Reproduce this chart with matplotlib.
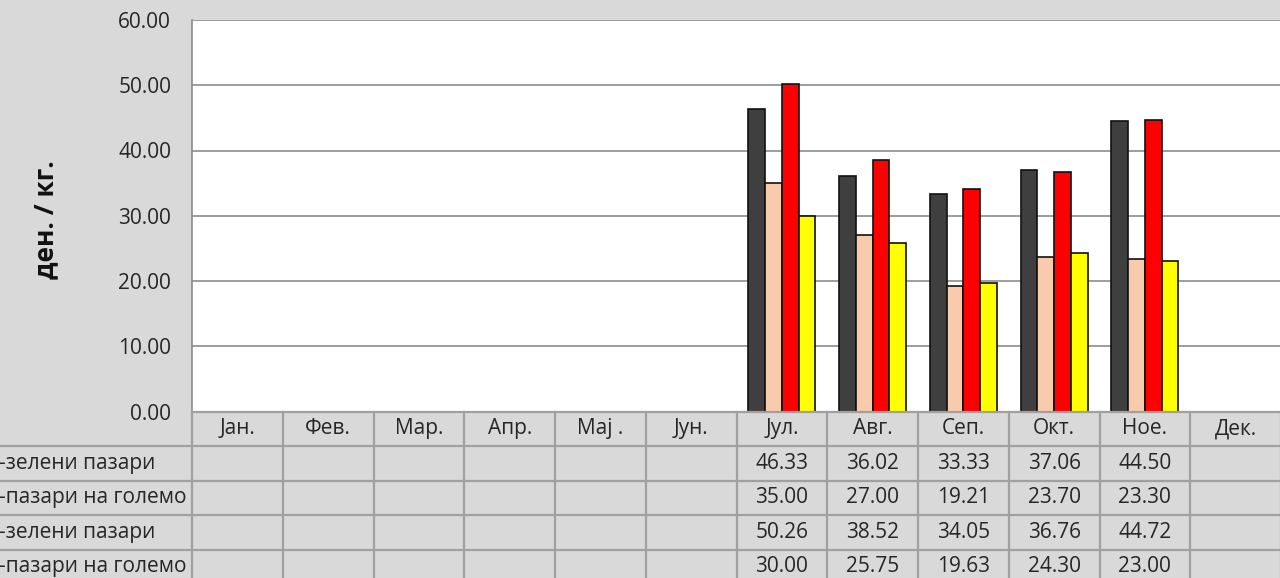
import matplotlib
matplotlib.use("Agg")
import matplotlib.pyplot as plt
from matplotlib.lines import Line2D
import matplotlib.transforms as mtransforms

plt.rcParams['font.family'] = ['Open Sans', 'DejaVu Sans']

months = ["Јан.", "Фев.", "Мар.", "Апр.", "Мај .", "Јун.", "Јул.", "Авг.", "Сеп.", "Окт.", "Ное.", "Дек."]
row_labels = ["-зелени пазари", "-пазари на големо", "-зелени пазари", "-пазари на големо"]
s1 = [None, None, None, None, None, None, 46.33, 36.02, 33.33, 37.06, 44.50, None]
s2 = [None, None, None, None, None, None, 35.00, 27.00, 19.21, 23.70, 23.30, None]
s3 = [None, None, None, None, None, None, 50.26, 38.52, 34.05, 36.76, 44.72, None]
s4 = [None, None, None, None, None, None, 30.00, 25.75, 19.63, 24.30, 23.00, None]
series = [s1, s2, s3, s4]
colors = ["#3F3F3F", "#F8CBAD", "#FF0000", "#FFFF00"]
yticks = [0, 10, 20, 30, 40, 50, 60]
ylabel = "ден. / кг."

W, H = 1280, 578
fig = plt.figure(figsize=(W / 100, H / 100), dpi=100, facecolor="#D9D9D9")

left_px, right_px = 192, 1281
top_px, zero_px = 20, 411.5
row_h = 34.5
fs = 15

ax = fig.add_axes([left_px / W, (H - zero_px) / H, (right_px - left_px) / W, (zero_px - top_px) / H])
ax.set_facecolor("white")
n = len(months)
bw = 0.185
offs = [-1.5, -0.5, 0.5, 1.5]
for k, s in enumerate(series):
    xs = [i + 0.5 + offs[k] * bw for i, v in enumerate(s) if v is not None]
    vs = [v for v in s if v is not None]
    ax.bar(xs, vs, width=bw, color=colors[k], edgecolor="#111111", linewidth=1.2, zorder=3)

ax.set_xlim(0, n)
ax.set_ylim(0, 60)
ax.set_yticks(yticks)
ax.set_yticklabels([f"{t:.2f}" for t in yticks], fontsize=fs, color="#262626")
ax.set_xticks([])
ax.tick_params(axis="y", length=0, pad=15)
ax.grid(axis="y", color="#8C8C8C", linewidth=1.2, zorder=0)
for sp in ["top", "right", "bottom"]:
    ax.spines[sp].set_visible(False)
ax.spines["left"].set_color("#8C8C8C")
ax.spines["left"].set_linewidth(1.2)

fig.text(46 / W, 1 - 220 / H, ylabel, rotation=90, fontsize=19, fontweight="bold",
         ha="center", va="center", color="#111111")

# data table
nrows = 1 + len(series)
tax = fig.add_axes([left_px / W, (H - zero_px - nrows * row_h) / H, (right_px - left_px) / W, nrows * row_h / H])
tax.set_xlim(0, n)
tax.set_ylim(nrows, 0)
tax.axis("off")
tax.patch.set_alpha(0)
gc = "#A0A0A0"
for i in range(n + 1):
    tax.plot([i, i], [0, nrows], color=gc, lw=1.6, clip_on=False)
trans = mtransforms.blended_transform_factory(fig.transFigure, tax.transData)
for r in range(nrows + 1):
    x0 = left_px / W if r == 0 else 0
    fig.add_artist(Line2D([x0, 1], [r, r], transform=trans, color=gc, lw=1.6))
for i, m in enumerate(months):
    tax.text(i + 0.5, 0.5, m, ha="center", va="center", fontsize=fs, color="#262626")
for r, s in enumerate(series):
    for i, v in enumerate(s):
        if v is not None:
            tax.text(i + 0.5, r + 1.5, f"{v:.2f}", ha="center", va="center", fontsize=fs, color="#262626")
    fig.text(-1 / W, r + 1.5, row_labels[r], transform=trans, ha="left", va="center", fontsize=fs,
             color="#262626")

fig.savefig("out.png", dpi=100, facecolor=fig.get_facecolor())
